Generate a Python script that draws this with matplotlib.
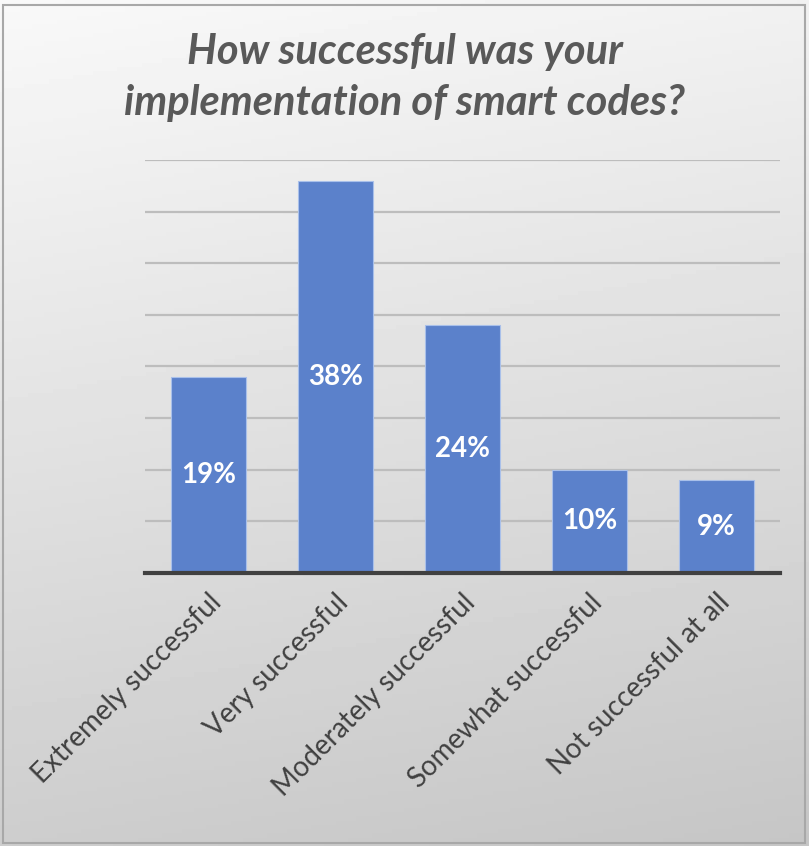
import numpy as np
import matplotlib.pyplot as plt
from matplotlib.patches import Rectangle

# survey answers and share of respondents (%)
answers = ['Extremely successful', 'Very successful', 'Moderately successful',
           'Somewhat successful', 'Not successful at all']
shares = [19, 38, 24, 10, 9]

plt.rcParams['font.family'] = ['Lato', 'DejaVu Sans']

fig = plt.figure(figsize=(8.09, 8.46), dpi=100)

# grey gradient behind everything
bg = fig.add_axes([0, 0, 1, 1], zorder=0)
yy, xx = np.mgrid[0:1:200j, 0:1:200j]
shade = 0.975 - 0.17 * yy - 0.03 * xx
bg.imshow(shade, cmap='gray', vmin=0, vmax=1, extent=[0, 1, 0, 1],
          origin='upper', aspect='auto')
bg.add_patch(Rectangle((0.004, 0.004), 0.991, 0.99, fill=False,
                       edgecolor='#a8a8a8', linewidth=1.5))
bg.set_xlim(0, 1)
bg.set_ylim(0, 1)
bg.axis('off')

ax = fig.add_axes([0.179, 0.3227, 0.785, 0.4882], zorder=1)
ax.patch.set_alpha(0)

x = np.arange(len(answers))
bars = ax.bar(x, shares, width=0.59, color='#5b81cb',
              edgecolor='#a9c0ea', linewidth=0.8, zorder=3)

for b, v in zip(bars, shares):
    ax.text(b.get_x() + b.get_width() / 2, v / 2, f'{v}%', ha='center',
            va='center', color='white', fontsize=20, fontweight='bold', zorder=4)

ax.set_ylim(0, 40)
ax.set_xlim(-0.5, len(answers) - 0.5)
ax.set_yticks(np.arange(5, 41, 5))
ax.yaxis.grid(True, color='#bdbdbd', linewidth=1.6, zorder=1)
ax.tick_params(axis='y', left=False, labelleft=False)
ax.tick_params(axis='x', bottom=False, pad=8)
ax.set_xticks(x)
ax.set_xticklabels(answers, rotation=45, ha='right', rotation_mode='anchor',
                   fontsize=20, color='#404040')
for side in ['top', 'right', 'left']:
    ax.spines[side].set_visible(False)
ax.spines['bottom'].set_color('#404040')
ax.spines['bottom'].set_linewidth(3)
ax.spines['bottom'].set_zorder(5)

fig.text(0.5, 0.9385, 'How successful was your', ha='center', va='center',
         fontsize=30, fontweight='bold', fontstyle='italic', color='#595959')
fig.text(0.5, 0.878, 'implementation of smart codes?', ha='center', va='center',
         fontsize=30, fontweight='bold', fontstyle='italic', color='#595959')

fig.savefig('out.png', dpi=100)
